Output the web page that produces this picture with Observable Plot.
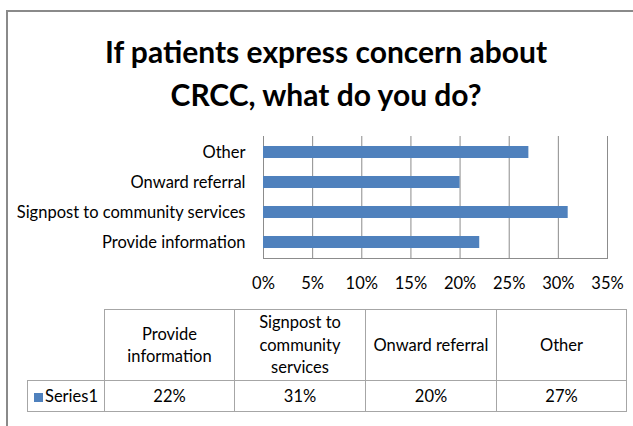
<!DOCTYPE html>
<html><head><meta charset="utf-8">
<script src="https://cdn.jsdelivr.net/npm/d3@7"></script>
<script src="https://cdn.jsdelivr.net/npm/@observablehq/plot@0.6"></script>
<style>
body{margin:0;background:#fff;}
#wrap{position:relative;width:633px;height:426px;overflow:hidden;font-family:Lato,sans-serif;color:#000;}
#border{position:absolute;left:6px;top:10px;width:700px;height:500px;border-left:2px solid #8a8a8a;border-top:2px solid #8a8a8a;}
#title{position:absolute;left:0;width:652px;top:30px;text-align:center;font-size:30px;font-weight:bold;line-height:43px;}
#chart{position:absolute;left:0;top:120px;}
#tbl{position:absolute;left:27px;top:309px;border-collapse:collapse;font-size:16.5px;font-family:Lato,sans-serif;}
#tbl td{border:1px solid #a6a6a6;text-align:center;padding:0 4px;line-height:22.5px;box-sizing:border-box;}
#tbl td.corner{border-top:none;border-left:none;}
#tbl td.series{text-align:left;padding:0 0 0 6px;}
.sw{display:inline-block;width:9px;height:9px;background:#4f81bd;margin-right:2px;}
</style></head>
<body>
<div id="wrap">
  <div id="border"></div>
  <div id="title">If patients express concern about<br>CRCC, what do you do?</div>
  <div id="chart"></div>
  <table id="tbl"></table>
</div>
<script>
const categories = ["Provide information", "Signpost to community services", "Onward referral", "Other"];
const values = [0.22, 0.31, 0.20, 0.27];
const xTicks = [0, 0.05, 0.10, 0.15, 0.20, 0.25, 0.30, 0.35];
const seriesName = "Series1";
const barColor = "#4f81bd";

const data = categories.map((c, i) => ({category: c, value: values[i]}));
const pct = d => Math.round(d * 100) + "%";

const chart = Plot.plot({
  width: 633, height: 180,
  marginLeft: 263, marginRight: 26, marginTop: 16, marginBottom: 42,
  x: {domain: [0, 0.35], label: null},
  y: {domain: [...categories].reverse(), paddingInner: 0.6, paddingOuter: 0.3, label: null},
  style: {fontFamily: "Lato, sans-serif", fontSize: "16.5px", color: "#000", background: "transparent"},
  marks: [
    Plot.ruleX(xTicks, {stroke: "#8c8c8c"}),
    Plot.frame({anchor: "bottom", stroke: "#8c8c8c"}),
    Plot.barX(data, {x: "value", y: "category", fill: barColor}),
    Plot.axisX({ticks: xTicks, tickFormat: pct, tickSize: 0, tickPadding: 19, fontSize: 16.5, label: null}),
    Plot.axisY({tickSize: 0, tickPadding: 18, fontSize: 16.5, label: null})
  ]
});
document.getElementById("chart").appendChild(chart);

// data table
const colW = [77, 130, 131, 131, 130];
const tbl = document.getElementById("tbl");
const hr = document.createElement("tr");
hr.style.height = "71px";
const corner = document.createElement("td");
corner.className = "corner";
corner.style.width = colW[0] + "px";
hr.appendChild(corner);
categories.forEach((c, i) => {
  const td = document.createElement("td");
  td.style.width = colW[i + 1] + "px";
  td.textContent = c;
  hr.appendChild(td);
});
tbl.appendChild(hr);
const dr = document.createElement("tr");
dr.style.height = "31px";
const s = document.createElement("td");
s.className = "series";
s.innerHTML = '<span class="sw"></span>' + seriesName;
dr.appendChild(s);
values.forEach(v => {
  const td = document.createElement("td");
  td.textContent = pct(v);
  dr.appendChild(td);
});
tbl.appendChild(dr);
</script>
</body></html>
